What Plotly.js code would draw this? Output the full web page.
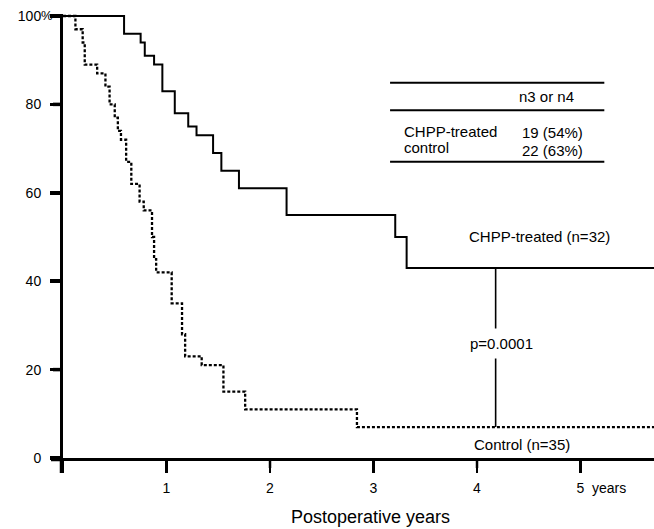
<!DOCTYPE html>
<html>
<head>
<meta charset="utf-8">
<script src="https://cdn.plot.ly/plotly-3.0.1.min.js"></script>
<style>
  html, body { margin: 0; padding: 0; background: #ffffff; }
  #chart { width: 654px; height: 529px; }
</style>
</head>
<body>
<div id="chart"></div>
<script>
// ---- Data ----
const chppYears   = [0, 0.59, 0.75, 0.79, 0.88, 0.96, 1.08, 1.21, 1.29, 1.45, 1.53, 1.70, 2.16, 3.21, 3.32, 5.71];
const chppSurv    = [100, 96, 94, 91, 89, 83, 78, 75, 73, 69, 65, 61, 55, 50, 43, 43];

const controlYears = [0, 0.12, 0.19, 0.21, 0.33, 0.41, 0.45, 0.50, 0.53, 0.56, 0.61, 0.66, 0.74, 0.78, 0.86, 0.88, 0.90, 1.05, 1.15, 1.18, 1.34, 1.55, 1.76, 2.84, 5.71];
const controlSurv  = [100, 97, 94, 89, 87, 84, 80, 77, 74, 72, 67, 62, 58, 56, 50, 45, 42, 35, 28, 23, 21, 15, 11, 7, 7];

const pValueYear  = 4.18;
const pValueText  = "p=0.0001";
const chppLabel    = "CHPP-treated (n=32)";
const controlLabel = "Control (n=35)";

const xTickVals  = [0, 1, 2, 3, 4, 5];
const xTickText  = ["", "1", "2", "3", "4", "5"];
const xUnitText  = "years";
const yTickVals  = [0, 20, 40, 60, 80, 100];
const yTickText  = ["0", "20", "40", "60", "80", "100"];
const yUnitText  = "%";
const xTitle     = "Postoperative years";

const tableHeader = "n3 or n4";
const tableGroups = ["CHPP-treated", "control"];
const tableValues = ["19 (54%)", "22 (63%)"];

// ---- Build ----
const FONT = "Liberation Sans, Arial, Helvetica, sans-serif";
const W = 654, H = 529;
const M = { l: 63, r: 0, t: 14, b: 71 };
const PW = W - M.l - M.r, PH = H - M.t - M.b;   // plot area size in px
const px2paperX = p => p / PW;
const px2paperY = p => p / PH;

const chppFinal = chppSurv[chppSurv.length - 1];
const controlFinal = controlSurv[controlSurv.length - 1];

const traces = [
  {
    x: chppYears, y: chppSurv, type: "scatter", mode: "lines",
    line: { shape: "hv", color: "#000", width: 2 },
    name: "CHPP-treated", hoverinfo: "skip"
  },
  {
    x: controlYears, y: controlSurv, type: "scatter", mode: "lines",
    line: { shape: "hv", color: "#000", width: 2.3, dash: "3px,2px" },
    name: "Control", hoverinfo: "skip"
  },
  {
    x: [pValueYear, pValueYear], y: [chppFinal, controlFinal], type: "scatter", mode: "lines",
    line: { color: "#000", width: 1.6 }, name: "p", hoverinfo: "skip"
  }
];

// table rules (data coordinates)
const tblX0 = 3.16, tblX1 = 5.23;
const tblLines = [84.9, 78.7, 67.0];
const shapes = tblLines.map(yv => ({
  type: "line", xref: "x", yref: "y", x0: tblX0, x1: tblX1, y0: yv, y1: yv,
  line: { color: "#000", width: 2 }
}));

// heavy tick marks drawn at the axis tick values
yTickVals.filter(v => v !== 0).forEach(v => shapes.push({
  type: "line", xref: "paper", yref: "y", x0: px2paperX(-10), x1: 0, y0: v, y1: v,
  line: { color: "#000", width: 3.5 }
}));
xTickVals.filter(v => v !== 0).forEach(v => shapes.push({
  type: "line", xref: "x", yref: "paper", x0: v, x1: v, y0: 0, y1: px2paperY(-10),
  line: { color: "#000", width: 2.5 }
}));
// axis stubs crossing at the origin
shapes.push({ type: "line", xref: "paper", yref: "paper", x0: px2paperX(-1.5), x1: px2paperX(-1.5), y0: 0, y1: px2paperY(-15), line: { color: "#000", width: 3.5 } });
shapes.push({ type: "line", xref: "paper", yref: "paper", x0: px2paperX(-12), x1: 0, y0: px2paperY(-1.5), y1: px2paperY(-1.5), line: { color: "#000", width: 3.5 } });

const annotations = [
  { text: chppLabel, x: 3.90, y: 50.0, xref: "x", yref: "y", xanchor: "left", yanchor: "middle", showarrow: false, font: { family: FONT, size: 15, color: "#000" } },
  { text: controlLabel, x: 4.43, y: 3.0, xref: "x", yref: "y", xanchor: "center", yanchor: "middle", showarrow: false, font: { family: FONT, size: 15, color: "#000" } },
  { text: pValueText, x: 4.235, y: 25.8, xref: "x", yref: "y", xanchor: "center", yanchor: "middle", showarrow: false, bgcolor: "#fff", borderpad: 6, font: { family: FONT, size: 15, color: "#000" } },
  { text: tableHeader, x: 4.39, y: 81.7, xref: "x", yref: "y", xanchor: "left", yanchor: "middle", showarrow: false, font: { family: FONT, size: 15, color: "#000" } },
  { text: tableGroups[0], x: 3.275, y: 73.8, xref: "x", yref: "y", xanchor: "left", yanchor: "middle", showarrow: false, font: { family: FONT, size: 15, color: "#000" } },
  { text: tableGroups[1], x: 3.275, y: 70.2, xref: "x", yref: "y", xanchor: "left", yanchor: "middle", showarrow: false, font: { family: FONT, size: 15, color: "#000" } },
  { text: tableValues[0], x: 4.42, y: 73.6, xref: "x", yref: "y", xanchor: "left", yanchor: "middle", showarrow: false, font: { family: FONT, size: 15, color: "#000" } },
  { text: tableValues[1], x: 4.42, y: 69.5, xref: "x", yref: "y", xanchor: "left", yanchor: "middle", showarrow: false, font: { family: FONT, size: 15, color: "#000" } },
  { text: yUnitText, x: 0, y: 100, xref: "x", yref: "y", xanchor: "left", yanchor: "middle", xshift: -23, borderpad: 0, showarrow: false, font: { family: FONT, size: 13, color: "#000" } },
  { text: xUnitText, x: 5, y: 0, xref: "x", yref: "y", xanchor: "left", yanchor: "middle", xshift: 9, yshift: -30, showarrow: false, font: { family: FONT, size: 14, color: "#000" } },
  { text: xTitle, x: px2paperX(307), y: px2paperY(-59), xref: "paper", yref: "paper", xanchor: "center", yanchor: "middle", showarrow: false, font: { family: FONT, size: 18, color: "#000" } }
];

const layout = {
  width: W, height: H,
  margin: { l: M.l, r: M.r, t: M.t, b: M.b, pad: 0 },
  paper_bgcolor: "#fff", plot_bgcolor: "#fff",
  showlegend: false,
  font: { family: FONT, color: "#000" },
  xaxis: {
    range: [0, 5.71], showgrid: false, zeroline: false,
    showline: true, linecolor: "#000", linewidth: 3,
    ticks: "outside", ticklen: 12, tickwidth: 2.5, tickcolor: "#000",
    tickmode: "array", tickvals: xTickVals, ticktext: xTickText,
    ticklabelstandoff: 3,
    tickfont: { family: FONT, size: 14, color: "#000" },
    fixedrange: true
  },
  yaxis: {
    range: [0, 100.45], showgrid: false, zeroline: false,
    showline: true, linecolor: "#000", linewidth: 3,
    ticks: "outside", ticklen: 10, tickwidth: 3.5, tickcolor: "#000",
    tickmode: "array", tickvals: yTickVals, ticktext: yTickText,
    ticklabelstandoff: 6,
    tickfont: { family: FONT, size: 14, color: "#000" },
    fixedrange: true
  },
  shapes: shapes,
  annotations: annotations
};

Plotly.newPlot("chart", traces, layout, { staticPlot: true, displayModeBar: false });
</script>
</body>
</html>
